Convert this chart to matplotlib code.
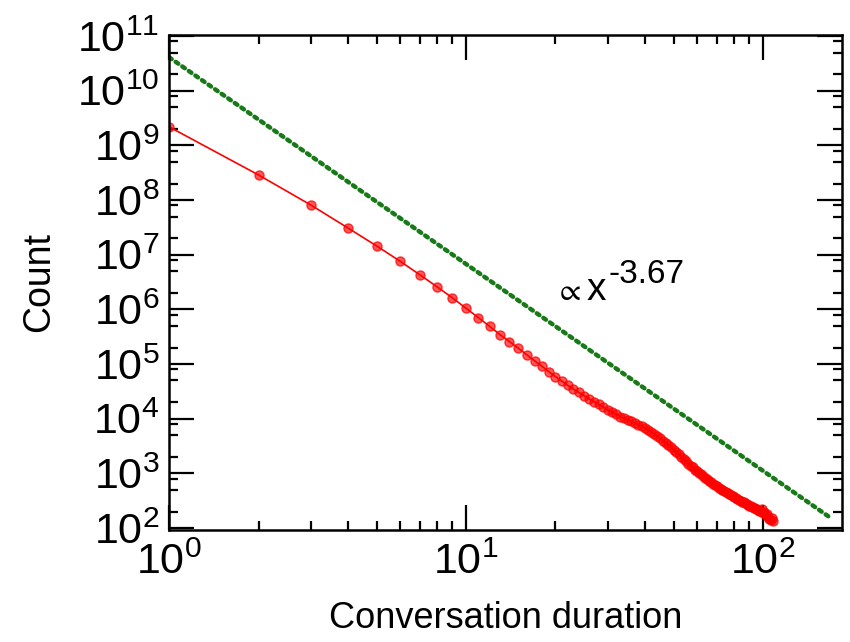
import numpy as np
import matplotlib
matplotlib.use("Agg")
import matplotlib.pyplot as plt
from matplotlib.ticker import LogLocator, NullFormatter, FixedLocator

plt.rcParams["font.family"] = ["Liberation Sans", "DejaVu Sans"]
plt.rcParams["mathtext.fontset"] = "custom"
plt.rcParams["mathtext.rm"] = "Liberation Sans"
plt.rcParams["mathtext.it"] = "Liberation Sans"
plt.rcParams["mathtext.fallback"] = "stixsans"

# conversation duration (integer steps) and log10 of counts
duration = list(range(1, 109))
log_count = [
    9.34, 8.46, 7.91, 7.49, 7.16, 6.88, 6.63, 6.41, 6.21, 6.02,
    5.85, 5.69, 5.54, 5.41, 5.29, 5.17, 5.06, 4.96, 4.86, 4.77,
    4.69, 4.61, 4.54, 4.48, 4.42, 4.36, 4.31, 4.26, 4.21, 4.16,
    4.12, 4.08, 4.04, 4.01, 3.98, 3.95, 3.92, 3.89, 3.86, 3.83,
    3.80, 3.76, 3.72, 3.68, 3.64, 3.60, 3.56, 3.52, 3.48, 3.43,
    3.39, 3.35, 3.30, 3.26, 3.22, 3.18, 3.14, 3.11, 3.07, 3.04,
    3.01, 2.98, 2.95, 2.92, 2.89, 2.86, 2.84, 2.81, 2.79, 2.76,
    2.74, 2.72, 2.70, 2.68, 2.66, 2.64, 2.62, 2.60, 2.58, 2.56,
    2.55, 2.53, 2.51, 2.50, 2.48, 2.47, 2.45, 2.44, 2.42, 2.41,
    2.40, 2.38, 2.37, 2.36, 2.34, 2.33, 2.32, 2.31, 2.34, 2.28,
    2.30, 2.24, 2.26, 2.20, 2.17, 2.14, 2.18, 2.13,
]

# reference power law line (endpoints)
fit_x = [1.0, 171.0]
fit_y = [4.1e10, 146.0]

xticks = [1, 10, 100]
yticks = [10.0**k for k in range(2, 12)]


def main():
    fig = plt.figure(figsize=(8.5, 6.42), dpi=100)
    ax = fig.add_axes([0.199, 0.1745, 0.792, 0.771])

    counts = [10.0**v for v in log_count]

    ax.plot(fit_x, fit_y, color="#177a17", lw=3.2,
            linestyle=(0, (0.7, 1.1)), dash_capstyle="round")
    ax.plot(duration, counts, color="red", lw=1.2, marker="o", ms=6.5,
            mfc=(1, 0, 0, 0.65), mec=(1, 0, 0, 0.75), mew=1.0)

    ax.set_xscale("log")
    ax.set_yscale("log")
    ax.set_xlim(1, 185)
    ax.set_ylim(92, 1.05e11)

    ax.xaxis.set_major_locator(FixedLocator(xticks))
    ax.yaxis.set_major_locator(FixedLocator(yticks))
    ax.xaxis.set_minor_locator(LogLocator(base=10, subs=np.arange(2, 10)))
    ax.yaxis.set_minor_locator(LogLocator(base=10, subs=[2, 5, 8], numticks=20))
    ax.xaxis.set_minor_formatter(NullFormatter())
    ax.yaxis.set_minor_formatter(NullFormatter())
    ax.set_xticklabels([r"$10^{%d}$" % k for k in range(0, 3)])
    ax.set_yticklabels([r"$10^{%d}$" % k for k in range(2, 12)])

    ax.tick_params(which="both", direction="in", top=True, right=True,
                   width=1.6, labelsize=31)
    ax.tick_params(which="major", length=18)
    ax.tick_params(which="minor", length=6.5)
    ax.tick_params(axis="x", pad=9)
    ax.tick_params(axis="y", pad=7)
    for sp in ax.spines.values():
        sp.set_linewidth(1.8)

    ax.set_xlabel("Conversation duration", fontsize=26, labelpad=13)
    ax.set_ylabel("Count", fontsize=27, labelpad=14)

    ax.text(0.571, 0.465, r"$\propto$", transform=ax.transAxes,
            fontsize=22, ha="left", va="baseline")
    ax.text(0.620, 0.465, "x", transform=ax.transAxes,
            fontsize=28, ha="left", va="baseline")
    ax.text(0.653, 0.499, "-3.67", transform=ax.transAxes,
            fontsize=24, ha="left", va="baseline")

    fig.savefig("out.png", dpi=100)


if __name__ == "__main__":

    main()
